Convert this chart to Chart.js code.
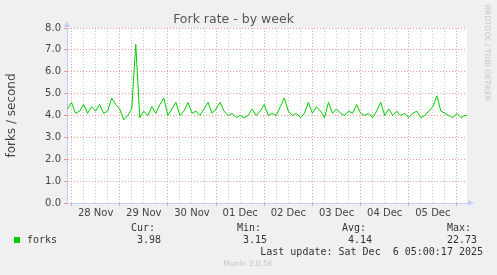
<!DOCTYPE html>
<html>
<head>
<meta charset="utf-8">
<script src="https://cdn.jsdelivr.net/npm/chart.js"></script>
<style>
  html, body { margin: 0; padding: 0; background: #f0f0f0; }
</style>
</head>
<body>
<canvas id="chartFork" width="497" height="275"></canvas>
<script>
// hours counted from 28 Nov 00:00, one sample every 2 hours
const startHour = -2;
const stepHours = 2;
const forks = [
  4.3, 4.6, 4.1, 4.2, 4.5, 4.1, 4.4, 4.2, 4.5, 4.1,
  4.2, 4.8, 4.5, 4.3, 3.8, 4.0, 4.3, 7.25, 3.9, 4.2,
  4.0, 4.4, 4.1, 4.5, 4.8, 4.0, 4.3, 4.6, 4.0, 4.2,
  4.6, 4.1, 4.2, 4.0, 4.3, 4.6, 4.1, 4.3, 4.6, 4.2,
  4.0, 4.1, 3.9, 4.0, 3.9, 4.0, 4.3, 4.0, 4.2, 4.5,
  4.0, 4.1, 4.0, 4.4, 4.8, 4.2, 4.0, 4.1, 3.9, 4.1,
  4.6, 4.1, 4.4, 4.2, 3.9, 4.6, 4.1, 4.3, 4.1, 4.0,
  4.2, 4.1, 4.5, 4.1, 4.0, 4.1, 3.9, 4.2, 4.6, 4.0,
  4.3, 4.0, 4.2, 4.0, 4.1, 3.9, 4.1, 4.2, 3.9, 4.0,
  4.2, 4.4, 4.9, 4.2, 4.1, 4.0, 3.9, 4.1, 3.9, 4.0,
  3.98
];
const dayLabels = ["28 Nov", "29 Nov", "30 Nov", "01 Dec", "02 Dec", "03 Dec", "04 Dec", "05 Dec"];
const legendHeads = ["Cur:", "Min:", "Avg:", "Max:"];
const legendValues = ["3.98", "3.15", "4.14", "22.73"];
const lastUpdate = "Last update: Sat Dec  6 05:00:17 2025";

const points = forks.map(function (v, i) {
  return { x: startHour + i * stepHours, y: v };
});

const red = "rgba(230,120,120,0.75)";
const grey = "rgba(190,190,190,0.9)";

const muninExtras = {
  id: "muninExtras",
  beforeDraw(chart) {
    const { ctx, chartArea: a } = chart;
    ctx.save();
    ctx.fillStyle = "#f0f0f0";
    ctx.fillRect(0, 0, chart.width, chart.height);
    ctx.fillStyle = "#ffffff";
    ctx.fillRect(a.left, a.top, a.right - a.left, a.bottom - a.top);
    ctx.restore();
  },
  afterDraw(chart) {
    const { ctx, chartArea: a } = chart;
    ctx.save();
    // axis arrows
    ctx.fillStyle = "#c4ccf4";
    ctx.beginPath();
    ctx.moveTo(a.left, a.top - 7);
    ctx.lineTo(a.left - 3, a.top - 1);
    ctx.lineTo(a.left + 3, a.top - 1);
    ctx.fill();
    ctx.beginPath();
    ctx.moveTo(a.right + 7, a.bottom);
    ctx.lineTo(a.right + 1, a.bottom - 3);
    ctx.lineTo(a.right + 1, a.bottom + 3);
    ctx.fill();

    // legend
    ctx.font = '10px "DejaVu Sans Mono"';
    ctx.fillStyle = "#333";
    ctx.textBaseline = "middle";
    const headX = [131, 237, 342, 447];
    const valX = [161, 267, 372, 477];
    ctx.textAlign = "left";
    legendHeads.forEach((h, i) => ctx.fillText(h, headX[i], 228));
    ctx.fillText("forks", 27, 240);
    ctx.textAlign = "right";
    legendValues.forEach((v, i) => ctx.fillText(v, valX[i], 240));
    ctx.fillText(lastUpdate, 483, 252);
    ctx.fillStyle = "#00cc00";
    ctx.fillRect(14, 237, 6, 6);

    // watermark + version
    ctx.fillStyle = "#c4c4c4";
    ctx.font = '7.5px "DejaVu Sans"';
    ctx.textAlign = "center";
    ctx.fillText("Munin 2.0.56", 248, 264);
    ctx.translate(487, 53);
    ctx.rotate(Math.PI / 2);
    ctx.fillText("RRDTOOL / TOBI OETIKER", 0, 0);
    ctx.restore();
  }
};

new Chart(document.getElementById("chartFork"), {
  type: "line",
  data: {
    datasets: [{
      label: "forks",
      data: points,
      borderColor: "#00cc00",
      borderWidth: 1,
      pointRadius: 0,
      tension: 0,
      fill: false
    }]
  },
  options: {
    responsive: false,
    animation: false,
    devicePixelRatio: 1,
    layout: { padding: { left: 0, right: 30, top: 0, bottom: 0 } },
    plugins: {
      legend: { display: false },
      tooltip: { enabled: false },
      title: {
        display: true,
        text: "Fork rate - by week",
        color: "#555",
        font: { family: "DejaVu Sans", size: 12.5, weight: "normal" },
        padding: { top: 12, bottom: 1 }
      }
    },
    scales: {
      x: {
        type: "linear",
        min: -2.25,
        max: 197,
        afterBuildTicks(s) {
          const t = [];
          for (let h = 0; h <= 192; h += 6) t.push({ value: h });
          s.ticks = t;
        },
        afterFit(s) { s.height = 72; },
        ticks: {
          autoSkip: false,
          maxRotation: 0,
          padding: 1,
          color: "#444",
          font: { family: "DejaVu Sans", size: 10 },
          callback: (v) => (v % 24 === 12 ? dayLabels[(v - 12) / 24] : "")
        },
        grid: {
          color: (c) => (c.tick && c.tick.value % 24 === 0 ? red : grey),
          tickColor: (c) => (c.tick && c.tick.value % 24 === 0 ? red : "rgba(0,0,0,0)"),
          tickLength: 3,
          lineWidth: 1
        },
        border: { color: "#c4ccf4", width: 1, dash: [1, 2] }
      },
      y: {
        min: 0,
        max: 8,
        afterBuildTicks(s) {
          const t = [];
          for (let v = 0; v <= 8; v += 0.5) t.push({ value: v });
          s.ticks = t;
        },
        afterFit(s) { s.width = 67; },
        ticks: {
          padding: 3,
          color: "#444",
          font: { family: "DejaVu Sans", size: 10 },
          callback: (v) => (v % 1 === 0 ? v.toFixed(1) : "")
        },
        grid: {
          color: (c) => (c.tick && c.tick.value % 1 === 0 ? red : grey),
          tickColor: (c) => (c.tick && c.tick.value % 1 === 0 ? red : "rgba(0,0,0,0)"),
          tickLength: 3,
          lineWidth: 1
        },
        border: { color: "#c4ccf4", width: 1, dash: [1, 2] },
        title: {
          display: true,
          text: "forks / second",
          color: "#444",
          font: { family: "DejaVu Sans", size: 12 },
          padding: { top: 5, bottom: 0 }
        }
      }
    }
  },
  plugins: [muninExtras]
});
</script>
</body>
</html>
